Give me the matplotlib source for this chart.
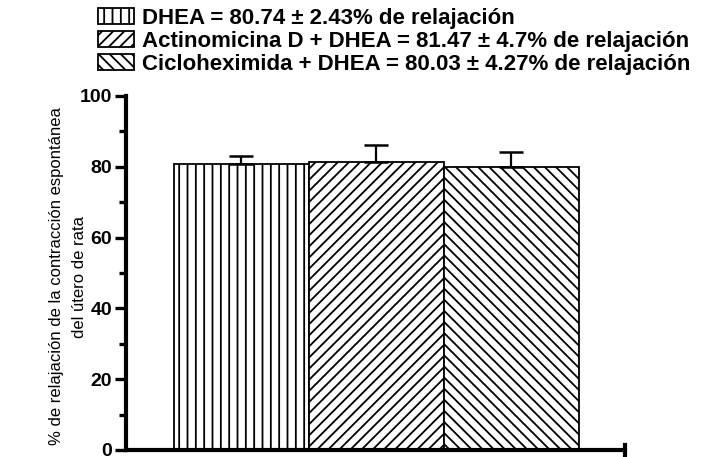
import matplotlib
matplotlib.use('Agg')
import matplotlib.pyplot as plt
from matplotlib.patches import Patch

## data
labels = ['DHEA = 80.74 ± 2.43% de relajación',
          'Actinomicina D + DHEA = 81.47 ± 4.7% de relajación',
          'Cicloheximida + DHEA = 80.03 ± 4.27% de relajación']
means = [80.74, 81.47, 80.03]
errs = [2.43, 4.7, 4.27]
hatches = ['||', '///', '\\\\\\']
yticks = [0, 20, 40, 60, 80, 100]

plt.rcParams['font.family'] = ['Liberation Sans', 'DejaVu Sans']
plt.rcParams['hatch.linewidth'] = 1.3

fig = plt.figure(figsize=(7.11, 4.57), dpi=100)
ax = fig.add_axes([126 / 711, 1 - 450 / 457, 499 / 711, 354 / 457])

x = [0.856 + i for i in range(len(means))]
ax.bar(x, means, width=1.0, color='white', edgecolor='black', linewidth=1.3, zorder=2)
for b, h in zip(ax.patches, hatches):
    b.set_hatch(h)

ax.errorbar(x, means, yerr=[[0] * len(errs), errs], fmt='none', ecolor='black',
            elinewidth=1.6, capsize=8.5, capthick=1.8, zorder=3)

ax.set_xlim(0, 3.70)
ax.set_ylim(0, 100)
ax.set_yticks(yticks)
ax.set_yticks(range(10, 100, 20), minor=True)
ax.set_xticks([])
ax.tick_params(axis='y', which='major', length=8, width=2.4, labelsize=14, pad=2)
ax.tick_params(axis='y', which='minor', length=5, width=2.4)
for t in ax.get_yticklabels():
    t.set_fontweight('bold')

for s in ['top', 'right']:
    ax.spines[s].set_visible(False)
ax.spines['left'].set_linewidth(3)
ax.spines['bottom'].set_linewidth(3)
# little end tick at right end of x axis
ax.plot([3.70, 3.70], [-1.5, 1.5], color='black', lw=3, clip_on=False)

ax.set_ylabel('% de relajación de la contracción espontánea\ndel útero de rata',
              fontsize=12, linespacing=1.65)
ax.yaxis.set_label_coords(-0.078, 0.49)

handles = [Patch(facecolor='white', edgecolor='black', hatch=h, linewidth=1.3) for h in hatches]
fig.legend(handles, labels, loc='upper left', bbox_to_anchor=(82 / 711, 1 + 8 / 457),
           frameon=False, handlelength=1.65, handleheight=0.7, handletextpad=0.35,
           labelspacing=0.1, borderpad=0.2, prop={'size': 16, 'weight': 'bold'})

fig.savefig('out.png', dpi=100)
